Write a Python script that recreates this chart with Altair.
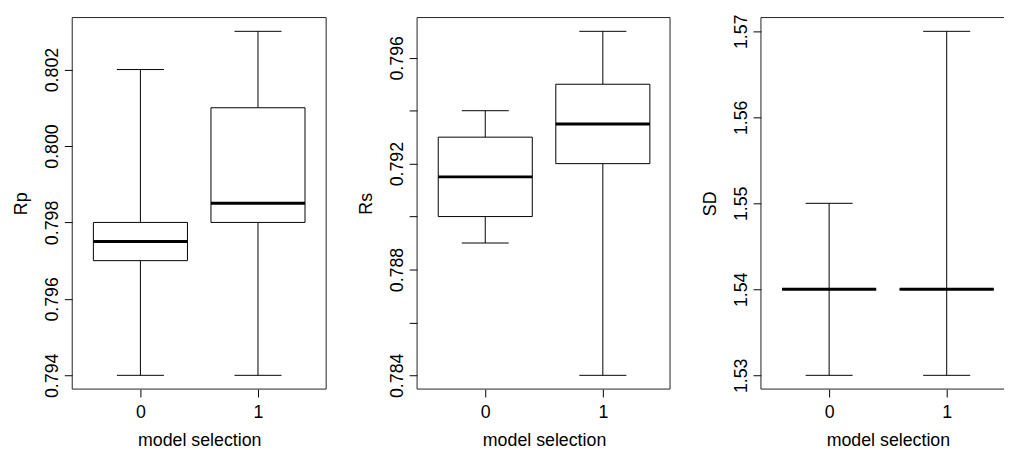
import altair as alt
import pandas as pd

# ---- data (five-number summaries per group) ----
groups = ["0", "1"]
positions = [1, 2]

rp_min = [0.794, 0.794]
rp_q1 = [0.797, 0.798]
rp_med = [0.7975, 0.7985]
rp_q3 = [0.798, 0.801]
rp_max = [0.802, 0.803]

rs_min = [0.789, 0.784]
rs_q1 = [0.790, 0.792]
rs_med = [0.7915, 0.7935]
rs_q3 = [0.793, 0.795]
rs_max = [0.794, 0.797]

sd_min = [1.53, 1.53]
sd_q1 = [1.54, 1.54]
sd_med = [1.54, 1.54]
sd_q3 = [1.54, 1.54]
sd_max = [1.55, 1.57]

rp_ticks = [0.794, 0.796, 0.798, 0.800, 0.802]
rs_ticks = [0.784, 0.786, 0.788, 0.790, 0.792, 0.794, 0.796]
sd_ticks = [1.53, 1.54, 1.55, 1.56, 1.57]

FONT = "Liberation Sans"
H = 376
FULL_W = 257
UNITS = 2.16  # R boxplot x-range 0.42 .. 2.58


def panel(title, mins, q1s, meds, q3s, maxs, ticks, fmt, width, right_frame=True,
          label_expr=None):
    df = pd.DataFrame({"group": groups, "pos": positions, "lo": mins, "q1": q1s,
                       "med": meds, "q3": q3s, "hi": maxs})
    lo_all, hi_all = min(mins), max(maxs)
    ext = 0.04 * (hi_all - lo_all)
    ys = alt.Scale(domain=[lo_all - ext, hi_all + ext], nice=False, zero=False)
    xs = alt.Scale(domain=[0.42, 0.42 + UNITS * width / FULL_W], nice=False, zero=False)

    common = dict(grid=False, domain=False, labelOverlap=False,
                  labelFont=FONT, titleFont=FONT, labelFontSize=18, titleFontSize=18,
                  titleFontWeight="normal", labelColor="black", titleColor="black",
                  tickColor="black", tickWidth=1, tickSize=8)
    xaxis = alt.Axis(values=positions, labelExpr="format(datum.value - 1, 'd')",
                     title="model selection",
                     labelPadding=21, labelBaseline="alphabetic", labelAlign="center",
                     titleBaseline="alphabetic", titleAlign="center",
                     titleX=FULL_W / 2, titleY=57, **common)
    yargs = dict(values=ticks, format=fmt, title=title,
                 labelPadding=7, labelAngle=270, labelAlign="center",
                 labelBaseline="alphabetic", titleAngle=270, titleAlign="center",
                 titleBaseline="alphabetic", titleX=-46, titleY=H / 2, **common)
    if label_expr:
        yargs["labelExpr"] = label_expr
    yaxis = alt.Axis(**yargs)

    base = alt.Chart(df).transform_calculate(
        left="datum.pos - 0.4", right="datum.pos + 0.4",
        sl="datum.pos - 0.2", sr="datum.pos + 0.2")

    whisk_lo = base.mark_rule(color="black", strokeWidth=1).encode(
        x=alt.X("pos:Q", scale=xs, axis=xaxis),
        y=alt.Y("lo:Q", scale=ys, axis=yaxis), y2="q1:Q")
    whisk_hi = base.mark_rule(color="black", strokeWidth=1).encode(
        x=alt.X("pos:Q", scale=xs, axis=xaxis),
        y=alt.Y("q3:Q", scale=ys, axis=yaxis), y2="hi:Q")
    staple_lo = base.mark_rule(color="black", strokeWidth=1).encode(
        x=alt.X("sl:Q", scale=xs, axis=xaxis), x2="sr:Q",
        y=alt.Y("lo:Q", scale=ys, axis=yaxis))
    staple_hi = base.mark_rule(color="black", strokeWidth=1).encode(
        x=alt.X("sl:Q", scale=xs, axis=xaxis), x2="sr:Q",
        y=alt.Y("hi:Q", scale=ys, axis=yaxis))
    box = base.mark_rect(fill="white", stroke="black", strokeWidth=1).encode(
        x=alt.X("left:Q", scale=xs, axis=xaxis), x2="right:Q",
        y=alt.Y("q1:Q", scale=ys, axis=yaxis), y2="q3:Q")
    median = base.mark_rule(color="black", strokeWidth=3).encode(
        x=alt.X("left:Q", scale=xs, axis=xaxis), x2="right:Q",
        y=alt.Y("med:Q", scale=ys, axis=yaxis))

    # plot frame (R's box around the plot region)
    fr = alt.Chart(alt.Data(values=[{}]))
    frame = [
        fr.mark_rule(color="#222", strokeWidth=1).encode(
            x=alt.value(0), x2=alt.value(width), y=alt.value(0)),
        fr.mark_rule(color="#222", strokeWidth=1).encode(
            x=alt.value(0), x2=alt.value(width), y=alt.value(H)),
        fr.mark_rule(color="#222", strokeWidth=1).encode(
            x=alt.value(0), y=alt.value(0), y2=alt.value(H)),
    ]
    if right_frame:
        frame.append(fr.mark_rule(color="#222", strokeWidth=1).encode(
            x=alt.value(width), y=alt.value(0), y2=alt.value(H)))

    return alt.layer(whisk_lo, whisk_hi, staple_lo, staple_hi, box, median,
                     *frame).properties(width=width, height=H)


p1 = panel("Rp", rp_min, rp_q1, rp_med, rp_q3, rp_max, rp_ticks, ".3f", 257)
p2 = panel("Rs", rs_min, rs_q1, rs_med, rs_q3, rs_max, rs_ticks, ".3f", 256,
           label_expr="(round(datum.value * 1000) - 784) % 4 == 0 ? format(datum.value, '.3f') : ''")
p3 = panel("SD", sd_min, sd_q1, sd_med, sd_q3, sd_max, sd_ticks, ".2f", 246,
           right_frame=False)

chart = alt.hconcat(p1, p2, p3, spacing=92, bounds="flush").properties(
    padding={"left": 5, "top": 3, "right": 0, "bottom": 0},
    background="white"
).configure_view(strokeOpacity=0)

chart.save("out.html", embed_options={"renderer": "svg", "actions": False})
